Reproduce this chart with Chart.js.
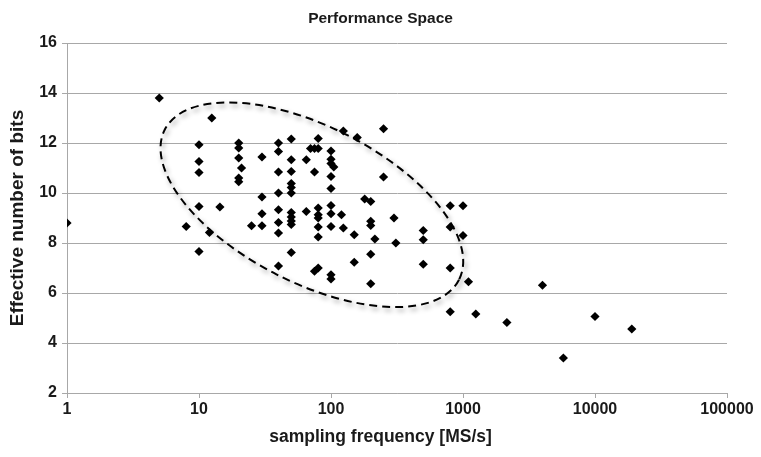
<!DOCTYPE html>
<html>
<head>
<meta charset="utf-8">
<script src="https://cdn.jsdelivr.net/npm/chart.js@4/dist/chart.umd.min.js"></script>
<style>
  html, body { margin: 0; padding: 0; background: #ffffff; }
  #wrap { width: 761px; height: 457px; }
</style>
</head>
<body>
<div id="wrap"><canvas id="c" width="761" height="457"></canvas></div>
<script>
// ---- data ----
const freqMSs = [
  1, 5, 12.5, 10, 10, 10, 10, 10, 8, 12, 14.4,
  20, 20, 20, 21, 20, 20, 30, 30, 30, 25, 30,
  40, 40, 40, 40, 40, 40, 40, 40,
  50, 50, 50, 50, 50, 50, 50, 50, 50, 50, 50,
  65, 65, 70, 75, 80, 80, 75, 80, 80, 80, 80, 80, 75, 80,
  100, 100, 100, 105, 100, 100, 100, 100, 100, 100, 100,
  120, 124, 124, 158, 150, 150, 180, 200, 200, 200, 215, 200, 200,
  250, 250, 300, 310, 500, 500, 500,
  800, 1000, 800, 1000, 800, 1100, 800, 1250, 2150, 4000, 5760, 10000, 19000
];
const enobBits = [
  8.8, 13.8, 13.0, 11.93, 11.26, 10.82, 9.46, 7.66, 8.66, 8.42, 9.44,
  12.0, 11.8, 11.4, 11.0, 10.6, 10.45, 11.44, 9.84, 9.17, 8.69, 8.69,
  12.0, 11.66, 10.84, 10.0, 9.33, 8.82, 8.4, 7.08,
  12.16, 11.33, 10.86, 10.38, 10.22, 10.0, 9.22, 9.04, 8.88, 8.74, 7.62,
  11.33, 9.26, 11.78, 11.78, 11.78, 12.18, 10.84, 9.4, 9.13, 9.0, 8.64, 8.24, 6.87, 7.0,
  11.68, 11.35, 11.18, 11.04, 10.66, 10.18, 9.5, 9.17, 8.66, 6.73, 6.56,
  9.13, 8.6, 12.48, 12.22, 8.33, 7.23, 9.76, 9.66, 8.87, 8.7, 8.16, 7.55, 6.37,
  12.57, 10.64, 9.0, 8.0, 8.5, 8.13, 7.15,
  9.49, 9.49, 8.64, 8.3, 7.0, 6.45, 5.25, 5.16, 4.82, 6.31, 3.4, 5.06, 4.56
];
const xTickValues = [1, 10, 100, 1000, 10000, 100000];
const yTickValues = [2, 4, 6, 8, 10, 12, 14, 16];
const chartTitle = 'Performance Space';
const xTitle = 'sampling frequency [MS/s]';
const yTitle = 'Effective number of bits';
// dashed ellipse annotation: major-axis ends in data units, minor/major ratio
const ellipseMajorEnds = [[5.5, 12.53], [933, 6.53]];
const ellipseAxisRatio = 0.473;

const points = freqMSs.map((f, i) => ({ x: f, y: enobBits[i] }));

const FONT = "'Liberation Sans', Arial, Helvetica, sans-serif";
const TXT = '#1a1a1a';
const GRID = '#a8a8a8';

const ellipsePlugin = {
  id: 'ellipse',
  beforeDatasetsDraw(chart) {
    const xs = chart.scales.x, ys = chart.scales.y, ctx = chart.ctx;
    const p1 = [xs.getPixelForValue(ellipseMajorEnds[0][0]), ys.getPixelForValue(ellipseMajorEnds[0][1])];
    const p2 = [xs.getPixelForValue(ellipseMajorEnds[1][0]), ys.getPixelForValue(ellipseMajorEnds[1][1])];
    const cx = (p1[0] + p2[0]) / 2, cy = (p1[1] + p2[1]) / 2;
    const a = Math.hypot(p2[0] - p1[0], p2[1] - p1[1]) / 2;
    const rot = Math.atan2(p2[1] - p1[1], p2[0] - p1[0]);
    ctx.save();
    ctx.shadowColor = 'rgba(0,0,0,0.4)';
    ctx.shadowBlur = 5;
    ctx.shadowOffsetX = 2;
    ctx.shadowOffsetY = 3;
    ctx.strokeStyle = '#000';
    ctx.lineWidth = 2;
    ctx.setLineDash([8, 5]);
    ctx.beginPath();
    ctx.ellipse(cx, cy, a, a * ellipseAxisRatio, rot, 0, Math.PI * 2);
    ctx.stroke();
    ctx.restore();
  },
  afterDraw(chart) {
    // x-axis title centred on the canvas, as in the reference
    const ctx = chart.ctx;
    ctx.save();
    ctx.fillStyle = TXT;
    ctx.font = 'bold 17.5px ' + FONT;
    ctx.textAlign = 'center';
    ctx.textBaseline = 'middle';
    ctx.fillText(xTitle, chart.width / 2, 437);
    ctx.restore();
  }
};

new Chart(document.getElementById('c'), {
  type: 'scatter',
  data: {
    datasets: [{
      data: points,
      pointStyle: 'rectRot',
      pointRadius: 4.6,
      pointHoverRadius: 4.6,
      backgroundColor: '#000',
      borderColor: '#000',
      borderWidth: 0
    }]
  },
  options: {
    responsive: false,
    animation: false,
    layout: { padding: 0 },
    plugins: {
      legend: { display: false },
      tooltip: { enabled: false },
      title: {
        display: true,
        text: chartTitle,
        color: TXT,
        font: { family: FONT, size: 15.5, weight: 'bold', lineHeight: 1.2 },
        padding: { top: 9, bottom: 15.4 }
      }
    },
    scales: {
      x: {
        type: 'logarithmic',
        min: 1, max: 100000,
        afterBuildTicks: (s) => { s.ticks = xTickValues.map(v => ({ value: v })); },
        afterFit: (s) => { s.height = 64; },
        ticks: {
          color: TXT,
          font: { family: FONT, size: 16, weight: 'bold' },
          padding: 2,
          maxRotation: 0,
          autoSkip: false,
          callback: (v) => String(v)
        },
        grid: { display: true, drawOnChartArea: false, drawTicks: true, tickLength: 5, color: GRID },
        border: { display: true, color: GRID, width: 1 },
        title: { display: false }
      },
      y: {
        min: 2, max: 16,
        afterBuildTicks: (s) => { s.ticks = yTickValues.map(v => ({ value: v })); },
        afterFit: (s) => { s.width = 67; },
        ticks: {
          color: TXT,
          font: { family: FONT, size: 16, weight: 'bold' },
          padding: 5
        },
        grid: { display: true, drawTicks: true, tickLength: 5, color: GRID, lineWidth: 1 },
        border: { display: true, color: GRID, width: 1 },
        title: {
          display: true,
          text: yTitle,
          color: TXT,
          font: { family: FONT, size: 19, weight: 'bold', lineHeight: 1.2 },
          padding: { top: 6.6, bottom: 0 }
        }
      },
      yRight: {
        position: 'right',
        display: true,
        afterFit: (s) => { s.width = 34; },
        ticks: { display: false },
        grid: { display: false, drawTicks: false },
        border: { display: false }
      }
    }
  },
  plugins: [ellipsePlugin]
});
</script>
</body>
</html>
